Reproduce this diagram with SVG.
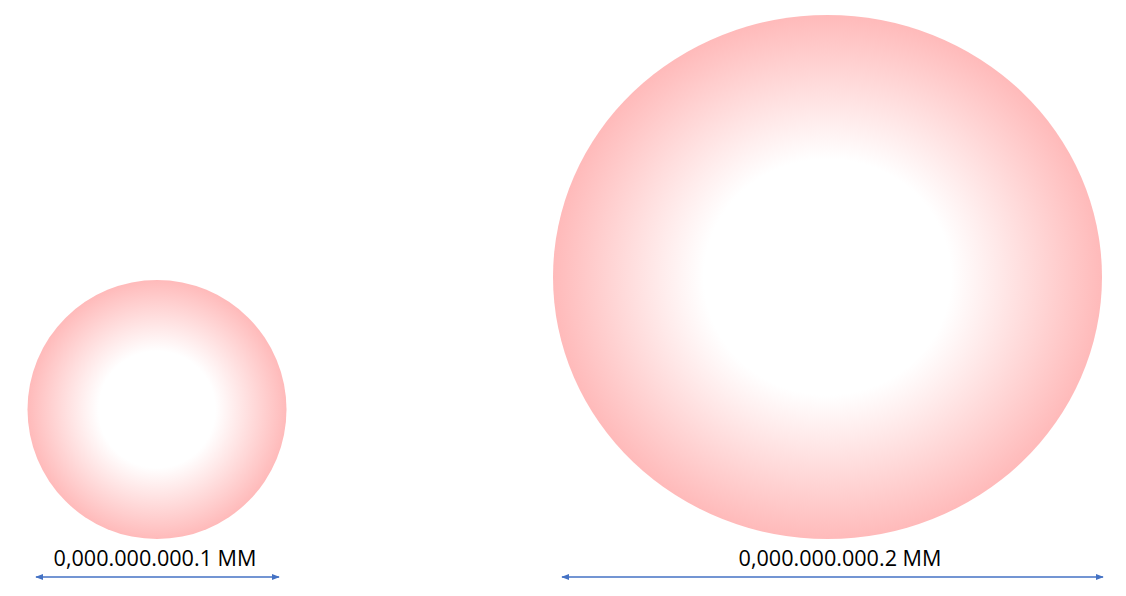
<svg xmlns="http://www.w3.org/2000/svg" width="1126" height="596" viewBox="0 0 1126 596">
<style>
.lbl{font-family:"Open Sans","Liberation Sans",sans-serif;font-size:21.6px;fill:#000;text-anchor:middle}
.dim{stroke:#4472C4;stroke-width:1.3;fill:none;marker-start:url(#ah);marker-end:url(#ah)}
</style>
<defs>
<radialGradient id="g" cx="50%" cy="50%" r="50%">
<stop offset="0" stop-color="#ffffff"/>
<stop offset="0.45" stop-color="#ffffff"/>
<stop offset="1" stop-color="#ffbaba"/>
</radialGradient>
<marker id="ah" viewBox="0 0 10 10" refX="9" refY="5" markerWidth="8" markerHeight="8" markerUnits="userSpaceOnUse" orient="auto-start-reverse">
<path d="M0,1 L10,5 L0,9 z" fill="#4472C4"/>
</marker>
</defs>
<rect width="1126" height="596" fill="#fff"/>
<g id="small-circle">
<ellipse cx="157" cy="409.5" rx="129.5" ry="129.5" fill="url(#g)"/>
</g>
<g id="large-circle">
<ellipse cx="827.5" cy="277" rx="274.5" ry="262" fill="url(#g)"/>
</g>
<g id="connectors">
<line class="dim" x1="36" y1="577" x2="279" y2="577"/>
<line class="dim" x1="562" y1="577" x2="1103" y2="577"/>
</g>
<g id="labels">
<text class="lbl" x="155" y="566">0,000.000.000.1 MM</text>
<text class="lbl" x="840" y="566">0,000.000.000.2 MM</text>
</g>
</svg>
